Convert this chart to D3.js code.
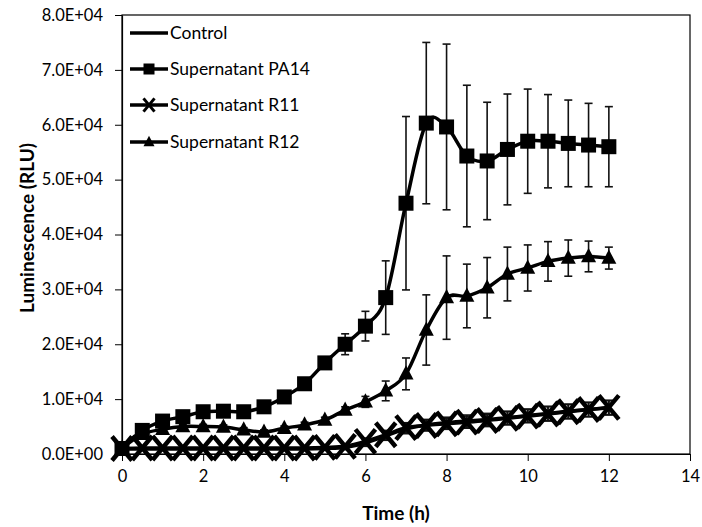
<!DOCTYPE html>
<html lang="en">
<head>
    <meta charset="UTF-8">
    <title>Luminescence over time</title>
    <script src="https://d3js.org/d3.v7.min.js"></script>
    <style>
        body { margin: 0; background: #fff; }
        text { font-family: Lato, "Open Sans", sans-serif; fill: #000; }
        .axis-title { font-weight: bold; font-size: 19px; }
    </style>
</head>
<body>
    <div id="chart"></div>

    <script>
        // time points (h)
        const time = [0, 0.5, 1, 1.5, 2, 2.5, 3, 3.5, 4, 4.5, 5, 5.5, 6, 6.5, 7, 7.5, 8, 8.5, 9, 9.5, 10, 10.5, 11, 11.5, 12];

        // means (RLU)
        const control = [900, 900, 900, 900, 900, 900, 900, 900, 900, 900, 1000, 1200, 2000, 3300, 4600, 5300, 5700, 6000, 6300, 6600, 7000, 7400, 7800, 8100, 8400];
        const pa14 = [1000, 4300, 6000, 6800, 7700, 7800, 7700, 8600, 10400, 12800, 16600, 20000, 23300, 28500, 45700, 60300, 59600, 54300, 53400, 55500, 57000, 57000, 56600, 56300, 56000];
        const r11 = [1000, 1100, 1100, 1100, 1100, 1100, 1100, 1100, 1100, 1100, 1200, 1400, 2300, 3500, 4800, 5200, 5500, 5800, 6100, 6500, 6900, 7300, 7700, 8100, 8500];
        const r12 = [1000, 3600, 4500, 5000, 5000, 4900, 4400, 4000, 4700, 5300, 6200, 8000, 9500, 11500, 14600, 22600, 28500, 28800, 30300, 32800, 33900, 35100, 35700, 36000, 35700];

        // standard deviations (RLU)
        const controlSd = [200, 200, 200, 200, 200, 200, 200, 200, 200, 200, 300, 400, 600, 800, 900, 1000, 1000, 1100, 1100, 1200, 1200, 1300, 1300, 1300, 1300];
        const pa14Sd = [300, 500, 600, 600, 600, 600, 600, 600, 700, 800, 1000, 1900, 2700, 6700, 15800, 14700, 15100, 12900, 10700, 10100, 9500, 8500, 7900, 7600, 7300];
        const r11Sd = [200, 200, 200, 200, 200, 200, 200, 200, 200, 200, 300, 400, 600, 800, 900, 1000, 1000, 1100, 1100, 1200, 1200, 1300, 1300, 1300, 1300];
        const r12Sd = [200, 400, 400, 400, 400, 400, 400, 400, 400, 500, 500, 600, 1000, 1800, 2900, 6400, 7600, 5800, 5500, 4900, 4200, 3600, 3300, 2800, 2000];

        const xTicks = [0, 2, 4, 6, 8, 10, 12, 14];
        const yTicks = [0, 10000, 20000, 30000, 40000, 50000, 60000, 70000, 80000];

        const seriesNames = ["Control", "Supernatant PA14", "Supernatant R11", "Supernatant R12"];
        const seriesMarkers = ["none", "square", "cross", "triangle"];

        const series = [
            { name: seriesNames[0], marker: seriesMarkers[0], mean: control, sd: controlSd },
            { name: seriesNames[1], marker: seriesMarkers[1], mean: pa14, sd: pa14Sd },
            { name: seriesNames[2], marker: seriesMarkers[2], mean: r11, sd: r11Sd },
            { name: seriesNames[3], marker: seriesMarkers[3], mean: r12, sd: r12Sd }
        ];

        const width = 702;
        const height = 527;
        const plot = { left: 122, right: 690, top: 15, bottom: 454 };

        const svg = d3.select("#chart")
            .append("svg")
            .attr("width", width)
            .attr("height", height);

        const x = d3.scaleLinear().domain([0, 14]).range([plot.left, plot.right]);
        const y = d3.scaleLinear().domain([0, 80000]).range([plot.bottom, plot.top]);

        const fmtY = d => d === 0 ? "0.0E+00" : (d / 10000).toFixed(1) + "E+04";

        // plot frame
        svg.append("rect")
            .attr("x", plot.left)
            .attr("y", plot.top)
            .attr("width", plot.right - plot.left)
            .attr("height", plot.bottom - plot.top)
            .attr("fill", "none")
            .attr("stroke", "#000")
            .attr("stroke-width", 1.2);

        // axes
        const xAxis = svg.append("g")
            .attr("transform", "translate(0," + plot.bottom + ")")
            .call(d3.axisBottom(x).tickValues(xTicks).tickSize(7).tickSizeOuter(0).tickPadding(9));
        const yAxis = svg.append("g")
            .attr("transform", "translate(" + plot.left + ",0)")
            .call(d3.axisLeft(y).tickValues(yTicks).tickFormat(fmtY).tickSize(7).tickSizeOuter(0).tickPadding(12));

        [xAxis, yAxis].forEach(g => {
            g.select(".domain").attr("stroke", "#000").attr("stroke-width", 1.2);
            g.selectAll(".tick line").attr("stroke", "#000").attr("stroke-width", 1);
            g.selectAll(".tick text")
                .style("font-family", "Lato, 'Open Sans', sans-serif")
                .style("font-size", "16.5px")
                .attr("fill", "#000");
        });

        // axis titles
        svg.append("text")
            .attr("class", "axis-title")
            .attr("x", 396)
            .attr("y", 520)
            .attr("text-anchor", "middle")
            .text("Time (h)");

        svg.append("text")
            .attr("class", "axis-title")
            .attr("transform", "translate(34,228) rotate(-90)")
            .attr("text-anchor", "middle")
            .text("Luminescence (RLU)");

        // error bars first, so lines and markers sit on top
        const capW = 4;
        series.forEach(s => {
            const g = svg.append("g").attr("stroke", "#111").attr("stroke-width", 1.6);
            time.forEach((t, i) => {
                const cx = x(t);
                const y1 = y(s.mean[i] + s.sd[i]);
                const y2 = y(s.mean[i] - s.sd[i]);
                g.append("line").attr("x1", cx).attr("x2", cx).attr("y1", y1).attr("y2", y2);
                g.append("line").attr("x1", cx - capW).attr("x2", cx + capW).attr("y1", y1).attr("y2", y1);
                g.append("line").attr("x1", cx - capW).attr("x2", cx + capW).attr("y1", y2).attr("y2", y2);
            });
        });

        const line = d3.line()
            .x((d, i) => x(time[i]))
            .y(d => y(d))
            .curve(d3.curveCatmullRom.alpha(0));

        function drawMarker(g, type, cx, cy, size) {
            if (type === "square") {
                g.append("rect")
                    .attr("x", cx - size / 2).attr("y", cy - size / 2)
                    .attr("width", size).attr("height", size)
                    .attr("fill", "#000");
            } else if (type === "triangle") {
                const h = size * 0.95;
                g.append("path")
                    .attr("d", "M" + cx + "," + (cy - h * 0.6) +
                        "L" + (cx + size / 2) + "," + (cy + h * 0.4) +
                        "L" + (cx - size / 2) + "," + (cy + h * 0.4) + "Z")
                    .attr("fill", "#000");
            } else if (type === "cross") {
                const w = size / 2, hh = size * 0.6;
                g.append("path")
                    .attr("d", "M" + (cx - w) + "," + (cy - hh) + "L" + (cx + w) + "," + (cy + hh) +
                        "M" + (cx + w) + "," + (cy - hh) + "L" + (cx - w) + "," + (cy + hh))
                    .attr("stroke", "#000")
                    .attr("stroke-width", size > 14 ? 4.5 : 3)
                    .attr("fill", "none");
            }
        }

        series.forEach(s => {
            svg.append("path")
                .datum(s.mean)
                .attr("d", line)
                .attr("fill", "none")
                .attr("stroke", "#000")
                .attr("stroke-width", 3.5);

            const g = svg.append("g");
            const size = s.marker === "cross" ? 20 : 15;
            s.mean.forEach((v, i) => drawMarker(g, s.marker, x(time[i]), y(v), size));
        });

        // legend
        const legend = svg.append("g");
        const legendY = [33, 69, 105, 142];
        series.forEach((s, i) => {
            const ly = legendY[i];
            legend.append("line")
                .attr("x1", 130).attr("x2", 168)
                .attr("y1", ly).attr("y2", ly)
                .attr("stroke", "#000")
                .attr("stroke-width", 3.5);
            drawMarker(legend, s.marker, 149, ly, 11);
            legend.append("text")
                .attr("x", 170)
                .attr("y", ly)
                .attr("dy", "0.35em")
                .style("font-size", "17.5px")
                .text(s.name);
        });
    </script>
</body>
</html>
